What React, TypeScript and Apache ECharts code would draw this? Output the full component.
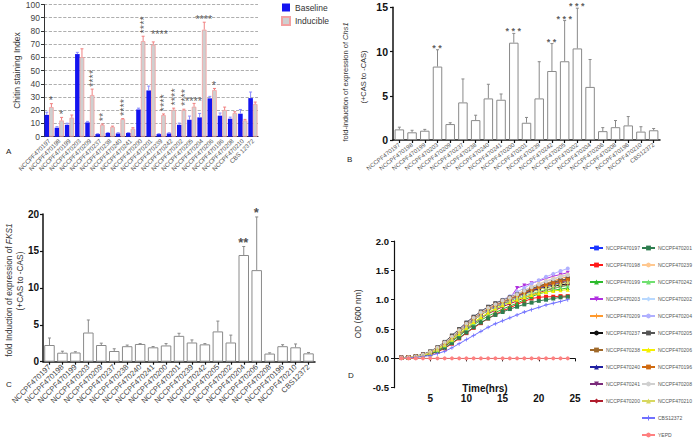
import React, { useEffect, useRef } from "react";
import * as echarts from "echarts";

// ---------- Panel A ----------
const catsA = ["NCCPF470197","NCCPF470198","NCCPF470199","NCCPF470203","NCCPF470209","NCCPF470237","NCCPF470238","NCCPF470240","NCCPF470241","NCCPF470200","NCCPF470201","NCCPF470239","NCCPF470242","NCCPF470202","NCCPF470205","NCCPF470204","NCCPF470206","NCCPF470196","NCCPF470208","NCCPF470210","CBS 12372"];
const baseline = [16.5,6.8,9,62.5,10.8,2,2.8,2.5,2.8,20.6,35,2,2.5,9,12.8,14.6,29,15.9,13.6,17.4,29.2];
const baselineSd = [2,0.8,1.2,1.3,0.8,0.3,0.4,0.5,0.3,1,3.3,0.3,0.5,1.3,2.8,3,1.5,2,1.2,3.2,4.6];
const inducible = [22.4,12.3,14.4,60.2,31.5,9,7.5,13.3,6,72.3,69.5,16.4,20.4,20.2,22.7,81,35.3,20.2,17.9,12.3,24.7];
const inducibleSd = [2.6,2.3,2,6.3,4.5,0.6,0.5,0.4,0.8,3.7,2.2,0.8,1.2,0.6,2.5,5.6,1.2,2.2,1,0.8,1.5];
// [category, y, text, direction]
const starsA: [string, number, string, string][] = [
  ["NCCPF470197", 25.5, "*", "h"],
  ["NCCPF470198", 15, "*", "h"],
  ["NCCPF470209", 36.5, "****", "v"],
  ["NCCPF470237", 10.5, "**", "v"],
  ["NCCPF470240", 14.5, "****", "v"],
  ["NCCPF470200", 77, "****", "v"],
  ["NCCPF470201", 74.5, "****", "l"],
  ["NCCPF470239", 18, "****", "v"],
  ["NCCPF470242", 22.5, "****", "v"],
  ["NCCPF470202", 22, "****", "v"],
  ["NCCPF470205", 25, "****", "h"],
  ["NCCPF470204", 87, "****", "h"],
  ["NCCPF470206", 37, "*", "h"],
];

// ---------- Panels B and C ----------
const catsBC = ["NCCPF470197","NCCPF470198","NCCPF470199","NCCPF470203","NCCPF470209","NCCPF470237","NCCPF470238","NCCPF470240","NCCPF470241","NCCPF470200","NCCPF470201","NCCPF470239","NCCPF470242","NCCPF470205","NCCPF470202","NCCPF470204","NCCPF470206","NCCPF470208","NCCPF470196","NCCPF470210","CBS12372"];
const chs1 = [1.2,0.87,1.05,8.3,1.8,4.25,2.25,4.7,4.55,11.0,1.95,4.7,7.8,8.9,10.35,6.0,1.0,1.45,1.65,0.95,1.1];
const chs1Sd = [0.25,0.23,0.15,1.9,0.15,2.65,0.55,1.6,0.65,1.05,0.6,4.15,3.1,4.6,4.55,3.1,0.4,0.75,1.0,0.55,0.2];
const starsB: [string, string][] = [
  ["NCCPF470203", "**"],
  ["NCCPF470200", "***"],
  ["NCCPF470242", "**"],
  ["NCCPF470205", "***"],
  ["NCCPF470202", "***"],
];
const fks1 = [2.26,1.22,1.25,3.95,2.26,1.45,2.1,2.4,1.95,2.2,3.5,2.6,2.35,4.1,2.6,14.45,12.4,1.1,2.1,1.95,1.13];
const fks1Sd = [0.95,0.2,0.1,1.7,0.25,0.3,0.15,0.05,0.1,0.25,0.35,0.35,0.1,1.4,1.0,1.15,7.2,0.1,0.2,0.45,0.12];
const starsC: [string, string][] = [
  ["NCCPF470204", "**"],
  ["NCCPF470206", "*"],
];

// ---------- Panel D ----------
const hours = [1,2,3,4,5,6,7,8,9,10,11,12,13,14,15,16,17,18,19,20,21,22,23,24];
const od197 = [0.01,0.02,0.03,0.05,0.09,0.15,0.23,0.33,0.44,0.55,0.65,0.74,0.82,0.88,0.93,0.98,1.04,1.1,1.16,1.2,1.24,1.28,1.32,1.36];
const od198 = [0.01,0.01,0.02,0.04,0.07,0.11,0.17,0.25,0.34,0.43,0.52,0.6,0.68,0.75,0.81,0.86,0.92,0.97,1.02,1.04,1.05,1.05,1.06,1.06];
const od199 = [0.01,0.02,0.03,0.04,0.08,0.13,0.2,0.29,0.38,0.48,0.57,0.65,0.72,0.78,0.84,0.89,0.94,1.0,1.05,1.1,1.13,1.16,1.18,1.2];
const od203 = [0.01,0.02,0.03,0.06,0.1,0.17,0.26,0.37,0.48,0.59,0.69,0.78,0.86,0.92,0.97,1.02,1.2,1.24,1.28,1.32,1.36,1.4,1.43,1.46];
const od209 = [0.01,0.02,0.03,0.06,0.1,0.16,0.25,0.35,0.46,0.57,0.67,0.76,0.84,0.9,0.96,1.01,1.07,1.12,1.18,1.23,1.28,1.32,1.36,1.39];
const od237 = [0.01,0.02,0.03,0.06,0.1,0.17,0.26,0.37,0.48,0.6,0.7,0.79,0.86,0.92,0.97,1.02,1.07,1.11,1.15,1.18,1.21,1.23,1.25,1.27];
const od238 = [0.01,0.02,0.03,0.06,0.11,0.18,0.27,0.38,0.49,0.6,0.7,0.79,0.87,0.93,0.98,1.03,1.08,1.13,1.18,1.22,1.26,1.3,1.33,1.36];
const od240 = [0.01,0.02,0.03,0.05,0.09,0.15,0.23,0.33,0.44,0.55,0.65,0.74,0.82,0.88,0.94,0.99,1.04,1.09,1.14,1.18,1.22,1.25,1.28,1.31];
const od241 = [0.01,0.02,0.03,0.06,0.1,0.17,0.26,0.36,0.47,0.58,0.68,0.77,0.85,0.91,0.96,1.01,1.06,1.11,1.16,1.2,1.24,1.27,1.3,1.33];
const od200 = [0.01,0.02,0.03,0.05,0.09,0.14,0.21,0.3,0.4,0.5,0.59,0.68,0.76,0.82,0.88,0.93,0.98,1.03,1.08,1.12,1.16,1.19,1.22,1.25];
const od201 = [0.01,0.01,0.02,0.04,0.07,0.12,0.18,0.26,0.35,0.44,0.53,0.61,0.68,0.74,0.79,0.84,0.88,0.92,0.95,0.98,1.0,1.02,1.04,1.05];
const od239 = [0.01,0.02,0.03,0.06,0.11,0.18,0.27,0.38,0.49,0.6,0.7,0.79,0.87,0.93,0.98,1.04,1.1,1.16,1.22,1.27,1.32,1.36,1.4,1.43];
const od242 = [0.01,0.02,0.03,0.05,0.09,0.14,0.22,0.31,0.41,0.51,0.6,0.69,0.77,0.84,0.9,0.96,1.01,1.06,1.1,1.14,1.17,1.2,1.22,1.24];
const od202 = [0.01,0.02,0.03,0.06,0.1,0.16,0.25,0.35,0.46,0.57,0.67,0.76,0.84,0.91,0.97,1.02,1.08,1.14,1.2,1.26,1.31,1.35,1.39,1.42];
const od204 = [0.01,0.02,0.03,0.06,0.11,0.18,0.27,0.38,0.5,0.61,0.71,0.8,0.88,0.94,1.0,1.06,1.13,1.2,1.27,1.33,1.39,1.44,1.49,1.53];
const od205 = [0.01,0.02,0.04,0.07,0.12,0.19,0.28,0.39,0.5,0.61,0.71,0.8,0.88,0.94,0.99,1.04,1.09,1.14,1.19,1.23,1.27,1.3,1.33,1.35];
const od206 = [0.01,0.02,0.03,0.05,0.09,0.15,0.23,0.32,0.42,0.52,0.62,0.7,0.78,0.85,0.91,0.96,1.0,1.04,1.08,1.11,1.13,1.15,1.16,1.17];
const od196 = [0.01,0.02,0.03,0.06,0.1,0.17,0.26,0.36,0.47,0.58,0.68,0.77,0.85,0.91,0.97,1.02,1.07,1.12,1.17,1.21,1.25,1.28,1.31,1.34];
const od208 = [0.01,0.02,0.03,0.06,0.11,0.18,0.27,0.37,0.48,0.59,0.69,0.78,0.86,0.92,0.98,1.03,1.09,1.15,1.21,1.26,1.31,1.35,1.39,1.42];
const od210 = [0.01,0.02,0.03,0.05,0.1,0.16,0.24,0.34,0.45,0.55,0.65,0.74,0.82,0.88,0.94,0.99,1.04,1.09,1.13,1.17,1.21,1.24,1.27,1.3];
const odCBS = [0.0,0.01,0.02,0.03,0.05,0.08,0.12,0.18,0.25,0.32,0.39,0.46,0.53,0.59,0.64,0.69,0.74,0.79,0.83,0.87,0.91,0.94,0.97,1.0];
const odYEPD = [0,0,0,0,0,0,0,0,0,0,0,0,0,0,0,0,0,0,0,0,0,0,0,0];

const PLUS = "path://M4,0H6V4H10V6H6V10H4V6H0V4H4Z";
const growth: [string, number[], string, string, number][] = [
  ["NCCPF470197", od197, "#1a35ff", "rect", 0],
  ["NCCPF470198", od198, "#ff1a1a", "rect", 0],
  ["NCCPF470199", od199, "#2dbb2d", "triangle", 0],
  ["NCCPF470203", od203, "#b030e0", "triangle", 180],
  ["NCCPF470209", od209, "#ff9a2e", PLUS, 0],
  ["NCCPF470237", od237, "#111111", "circle", 0],
  ["NCCPF470238", od238, "#a0692a", "rect", 0],
  ["NCCPF470240", od240, "#2020a0", "triangle", 0],
  ["NCCPF470241", od241, "#7a2a7a", "triangle", 180],
  ["NCCPF470200", od200, "#b01c2c", "diamond", 0],
  ["NCCPF470201", od201, "#2e7d4f", "rect", 0],
  ["NCCPF470239", od239, "#ffc890", "circle", 0],
  ["NCCPF470242", od242, "#70e070", "triangle", 0],
  ["NCCPF470202", od202, "#b8d8ff", "diamond", 0],
  ["NCCPF470204", od204, "#b0b0ff", "circle", 0],
  ["NCCPF470205", od205, "#555555", "rect", 0],
  ["NCCPF470206", od206, "#f5f000", "triangle", 0],
  ["NCCPF470196", od196, "#d06a10", "rect", 0],
  ["NCCPF470208", od208, "#d0d0d0", "circle", 0],
  ["NCCPF470210", od210, "#d8d860", "triangle", 0],
  ["CBS12372", odCBS, "#7070ff", PLUS, 0],
  ["YEPD", odYEPD, "#ff8080", "circle", 0],
];
const legendCol1 = ["NCCPF470197","NCCPF470198","NCCPF470199","NCCPF470203","NCCPF470209","NCCPF470237","NCCPF470238","NCCPF470240","NCCPF470241","NCCPF470200"];
const legendCol2 = ["NCCPF470201","NCCPF470239","NCCPF470242","NCCPF470202","NCCPF470204","NCCPF470205","NCCPF470206","NCCPF470196","NCCPF470208","NCCPF470210","CBS12372","YEPD"];

const NARROW = "'Liberation Sans Narrow', 'Liberation Sans', Arial, sans-serif";
const SANS = "'Liberation Sans', Arial, sans-serif";
const CLEAR = "rgba(0,0,0,0)";

function errRenderer(offset: number, cap: number, color: string) {
  return (params: any, api: any) => {
    const i = api.value(0);
    const p0 = api.coord([i, api.value(1)]);
    const p1 = api.coord([i, api.value(2)]);
    const x = p0[0] + offset;
    return {
      type: "group",
      children: [
        { type: "line", shape: { x1: x, y1: p0[1], x2: x, y2: p1[1] }, style: { stroke: color, lineWidth: 1 } },
        { type: "line", shape: { x1: x - cap, y1: p1[1], x2: x + cap, y2: p1[1] }, style: { stroke: color, lineWidth: 1 } },
      ],
    };
  };
}

function errData(means: number[], sds: number[]) {
  return means.map((m, i) => [i, m, m + sds[i]]);
}

export default function App() {
  const ref = useRef<HTMLDivElement>(null);
  useEffect(() => {
    document.body.style.margin = "0";
    const chart = echarts.init(ref.current!, null, { renderer: "svg" });
    const BW = 4.6;
    const topOf = (cats: string[], means: number[], sds: number[], c: string) => {
      const i = cats.indexOf(c);
      return means[i] + sds[i];
    };

    const starDataA = starsA.map(([c, y, t, d]) => {
      const lbl: any = { show: true, formatter: t, fontSize: 11, color: "#333", fontFamily: SANS };
      if (d === "v") Object.assign(lbl, { rotate: 90, align: "left", verticalAlign: "middle", position: [BW / 2 + 1.5, -1] });
      else if (d === "l") Object.assign(lbl, { align: "left", verticalAlign: "bottom", position: [0.5, 2] });
      else Object.assign(lbl, { align: "center", verticalAlign: "bottom", position: [BW / 2, 3] });
      return { value: [c, y], label: lbl };
    });
    const starDataB = starsB.map(([c, t]) => ({
      value: [c, topOf(catsBC, chs1, chs1Sd, c)],
      label: { show: true, formatter: t.split("").join(" "), fontSize: 9, fontWeight: "bold", color: "#333", align: "center", verticalAlign: "bottom", position: [0, 3], fontFamily: SANS },
    }));
    const starDataC = starsC.map(([c, t]) => ({
      value: [c, topOf(catsBC, fks1, fks1Sd, c)],
      label: { show: true, formatter: t, fontSize: 13, fontWeight: "bold", color: "#222", align: "center", verticalAlign: "bottom", position: [0, 3], fontFamily: SANS },
    }));

    const boldLbl = { fontSize: 9.5, fontWeight: "bold", color: "#111", fontFamily: SANS };
    const blackLine = { show: true, lineStyle: { color: "#111", width: 1.5 } };
    const blackTick = { show: true, length: 3, lineStyle: { color: "#111", width: 1.2 } };
    const starSeries = (xi: number, data: any[]) => ({
      type: "scatter", xAxisIndex: xi, yAxisIndex: xi, symbol: "circle", symbolSize: 1,
      itemStyle: { color: CLEAR }, data, z: 6, clip: false, silent: true,
    });
    const growthLegend = (names: string[], left: number) => ({
      data: names, orient: "vertical", left, top: 245, padding: 0,
      itemWidth: 13, itemHeight: 6, itemGap: 11, itemSymbolSize: 4,
      textStyle: { fontSize: 5, color: "#555", lineHeight: 6, fontFamily: NARROW, padding: [0, 0, 0, -2] },
    });

    const option: any = {
      animation: false,
      backgroundColor: "#fff",
      textStyle: { fontFamily: SANS },
      grid: [
        { left: 44, top: 4.3, width: 214, height: 132.4 },
        { left: 393, top: 7.3, width: 267, height: 132.7 },
        { left: 43, top: 214, width: 272, height: 147.7 },
        { left: 394, top: 241, width: 181, height: 146.7 },
      ],
      xAxis: [
        {
          type: "category", gridIndex: 0, data: catsA,
          axisLine: { lineStyle: { color: "#333", width: 1 } },
          axisTick: { alignWithLabel: true, length: 3, lineStyle: { color: "#333" } },
          axisLabel: { interval: 0, rotate: 45, fontSize: 6.2, color: "#555", margin: 3, fontFamily: NARROW },
        },
        {
          type: "category", gridIndex: 1, data: catsBC,
          axisLine: blackLine, axisTick: { ...blackTick, alignWithLabel: true },
          axisLabel: { interval: 0, rotate: 38, fontSize: 6, color: "#555", margin: 4, fontFamily: NARROW },
        },
        {
          type: "category", gridIndex: 2, data: catsBC,
          axisLine: blackLine, axisTick: { ...blackTick, alignWithLabel: true },
          axisLabel: { interval: 0, rotate: 45, fontSize: 7.6, color: "#444", margin: 4, fontFamily: NARROW },
        },
        {
          type: "value", gridIndex: 3, min: 0, max: 25, interval: 5,
          axisLine: { show: true, onZero: true, lineStyle: { color: "#111", width: 1.2 } },
          axisTick: { show: true, length: 3, lineStyle: { color: "#111" } },
          splitLine: { show: false },
          axisLabel: { ...boldLbl, fontSize: 10, margin: 6, formatter: (v: number) => (v === 0 ? "" : String(v)) },
        },
      ],
      yAxis: [
        {
          type: "value", gridIndex: 0, min: 0, max: 100, interval: 10,
          name: "Chitin staining Index", nameLocation: "middle", nameGap: 22,
          nameTextStyle: { fontSize: 8.5, color: "#333", fontFamily: SANS },
          axisLine: { show: true, lineStyle: { color: "#333" } },
          axisTick: { show: true, length: 3, lineStyle: { color: "#333" } },
          splitLine: { show: true, lineStyle: { type: "dashed", color: "#9a9a9a", width: 0.8 } },
          axisLabel: { fontSize: 8.5, color: "#444", margin: 4 },
        },
        {
          type: "value", gridIndex: 1, min: 0, max: 15, interval: 5,
          axisLine: blackLine, axisTick: blackTick, splitLine: { show: false },
          axisLabel: { ...boldLbl, fontSize: 10.5, margin: 5 },
        },
        {
          type: "value", gridIndex: 2, min: 0, max: 20, interval: 5,
          axisLine: blackLine, axisTick: blackTick, splitLine: { show: false },
          axisLabel: { ...boldLbl, fontSize: 10, margin: 4 },
        },
        {
          type: "value", gridIndex: 3, min: -0.5, max: 2, interval: 0.5,
          axisLine: { show: true, lineStyle: { color: "#111", width: 1.2 } },
          axisTick: { show: true, length: 3, lineStyle: { color: "#111" } },
          splitLine: { show: false },
          axisLabel: { ...boldLbl, margin: 5, formatter: (v: number) => v.toFixed(1) },
        },
      ],
      legend: [
        {
          data: ["Baseline", "Inducible"], orient: "vertical", left: 281, top: 3, padding: 0,
          itemWidth: 8, itemHeight: 8, itemGap: 4, icon: "rect",
          textStyle: { fontSize: 8.5, color: "#333", fontFamily: SANS },
        },
        growthLegend(legendCol1, 589),
        growthLegend(legendCol2, 641),
      ],
      graphic: [
        { type: "text", left: 6, top: 147, style: { text: "A", fontSize: 8, fill: "#222", fontFamily: SANS } },
        { type: "text", left: 347, top: 155, style: { text: "B", fontSize: 8, fill: "#222", fontFamily: SANS } },
        { type: "text", left: 6, top: 380, style: { text: "C", fontSize: 8, fill: "#222", fontFamily: SANS } },
        { type: "text", left: 348, top: 371, style: { text: "D", fontSize: 8, fill: "#222", fontFamily: SANS } },
        {
          type: "text", x: 345, y: 82, rotation: Math.PI / 2,
          style: {
            text: "fold-induction of expression of {i|Chs1}", align: "center", verticalAlign: "middle",
            fontSize: 7.5, fill: "#333", fontFamily: NARROW,
            rich: { i: { fontStyle: "italic", fontSize: 7.5, fill: "#333", fontFamily: NARROW } },
          },
        },
        {
          type: "text", x: 363, y: 77, rotation: Math.PI / 2,
          style: { text: "(+CAS to -CAS)", align: "center", verticalAlign: "middle", fontSize: 7.5, fill: "#333", fontFamily: NARROW },
        },
        {
          type: "text", x: 9, y: 290, rotation: Math.PI / 2,
          style: {
            text: "fold Induction of expression of {i|FKS1}", align: "center", verticalAlign: "middle",
            fontSize: 8.3, fill: "#333", fontFamily: NARROW,
            rich: { i: { fontStyle: "italic", fontSize: 8.3, fill: "#333", fontFamily: NARROW } },
          },
        },
        {
          type: "text", x: 20, y: 281, rotation: Math.PI / 2,
          style: { text: "(+CAS to -CAS)", align: "center", verticalAlign: "middle", fontSize: 8.3, fill: "#333", fontFamily: NARROW },
        },
        {
          type: "text", x: 358, y: 314, rotation: Math.PI / 2,
          style: { text: "OD (600 nm)", align: "center", verticalAlign: "middle", fontSize: 8.5, fill: "#333", fontFamily: SANS },
        },
        {
          type: "text", x: 485, y: 388,
          style: { text: "Time(hrs)", align: "center", verticalAlign: "middle", fontSize: 10, fontWeight: "bold", fill: "#111", fontFamily: NARROW },
        },
      ],
      series: [
        // Panel A
        {
          type: "bar", name: "Baseline", xAxisIndex: 0, yAxisIndex: 0, data: baseline,
          barWidth: BW, barGap: "0%", itemStyle: { color: "#1414f0" },
        },
        {
          type: "bar", name: "Inducible", xAxisIndex: 0, yAxisIndex: 0, data: inducible,
          barWidth: BW, barGap: "0%", itemStyle: { color: "#cfcfcf", borderColor: "#f2a0a0", borderWidth: 0.8 },
        },
        {
          type: "custom", xAxisIndex: 0, yAxisIndex: 0, renderItem: errRenderer(-BW / 2, 1.5, "#8a8aff"),
          data: errData(baseline, baselineSd), z: 3, silent: true,
        },
        {
          type: "custom", xAxisIndex: 0, yAxisIndex: 0, renderItem: errRenderer(BW / 2, 1.5, "#f08080"),
          data: errData(inducible, inducibleSd), z: 3, silent: true,
        },
        starSeries(0, starDataA),
        // Panel B
        {
          type: "bar", xAxisIndex: 1, yAxisIndex: 1, data: chs1, barWidth: 9.5,
          itemStyle: { color: "#ffffff", borderColor: "#8a8a8a", borderWidth: 1 },
        },
        {
          type: "custom", xAxisIndex: 1, yAxisIndex: 1, renderItem: errRenderer(0, 1.5, "#8a8a8a"),
          data: errData(chs1, chs1Sd), z: 3, silent: true,
        },
        starSeries(1, starDataB),
        // Panel C
        {
          type: "bar", xAxisIndex: 2, yAxisIndex: 2, data: fks1, barWidth: 10.5,
          itemStyle: { color: "#ffffff", borderColor: "#8a8a8a", borderWidth: 1 },
        },
        {
          type: "custom", xAxisIndex: 2, yAxisIndex: 2, renderItem: errRenderer(0, 1.5, "#8a8a8a"),
          data: errData(fks1, fks1Sd), z: 3, silent: true,
        },
        starSeries(2, starDataC),
        // Panel D
        ...growth.map(([name, vals, color, symbol, rot]) => ({
          type: "line", name, xAxisIndex: 3, yAxisIndex: 3,
          data: hours.map((h, i) => [h, vals[i]]),
          symbol, symbolSize: 4, symbolRotate: rot, showSymbol: true,
          lineStyle: { color, width: 1 }, itemStyle: { color },
          z: name === "YEPD" ? 10 : 2,
        })),
      ],
    };
    chart.setOption(option);
    return () => chart.dispose();
  }, []);
  return <div ref={ref} style={{ width: 696, height: 438 }} />;
}
